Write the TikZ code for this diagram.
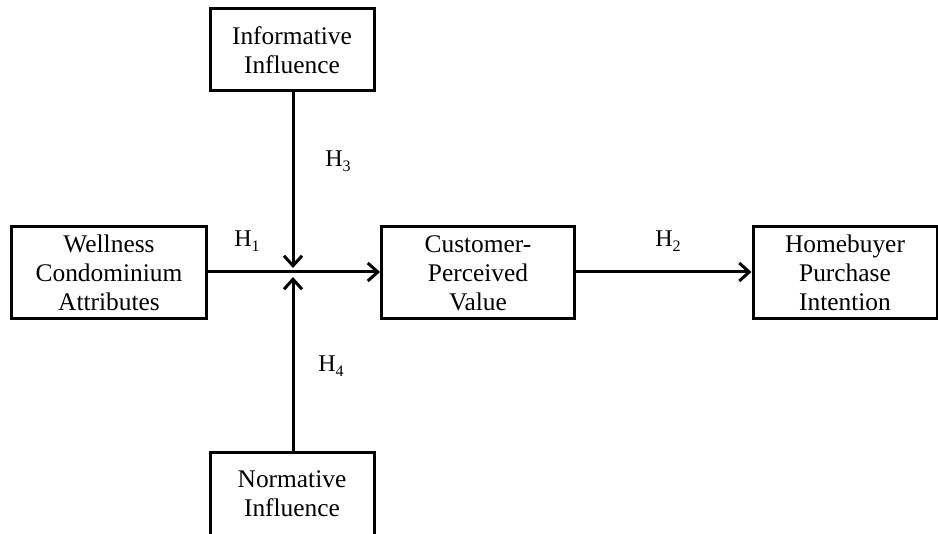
\documentclass[tikz,border=0pt]{standalone}
\usepackage{fontspec}
\setmainfont{Liberation Serif}
\usetikzlibrary{arrows.meta}
\newcommand{\hsub}[1]{H\raisebox{-0.45ex}{\fontsize{8pt}{8pt}\selectfont #1}}
\begin{document}
\begin{tikzpicture}[x=0.5pt,y=-0.5pt,
  box/.style={draw,line width=1.5pt,align=center,inner sep=0pt,
    font=\fontsize{12.7pt}{14.5pt}\selectfont},
  conn/.style={line width=1.5pt,-{Straight Barb[length=5pt,width=9pt,line width=1.5pt]}},
  hyp/.style={font=\fontsize{12pt}{13pt}\selectfont}]
\useasboundingbox (0,0) rectangle (938,534);
\node[box,minimum width=82pt,minimum height=41pt] (info) at (292,50) {Informative\\Influence};
\node[box,minimum width=97.5pt,minimum height=46pt] (well) at (109,273) {Wellness\\Condominium\\Attributes};
\node[box,minimum width=96.5pt,minimum height=46pt] (cust) at (478,273) {Customer-\\Perceived\\Value};
\node[box,minimum width=92pt,minimum height=46pt] (home) at (845,273) {Homebuyer\\Purchase\\Intention};
\node[box,minimum width=82pt,minimum height=41pt] (norm) at (292,494) {Normative\\Influence};
\coordinate (jtop) at (293,268);
\coordinate (jbot) at (293,277);
\draw[conn] (well.east |- 0,272) -- (cust.west |- 0,272);
\draw[conn] (cust.east |- 0,272) -- (home.west |- 0,272);
\draw[conn] (info.south -| jtop) -- (jtop);
\draw[conn] (norm.north -| jbot) -- (jbot);
\node[hyp] (h1) at (247,241) {\hsub{1}};
\node[hyp] (h2) at (668,241) {\hsub{2}};
\node[hyp] (h3) at (338,161) {\hsub{3}};
\node[hyp] (h4) at (331,366) {\hsub{4}};
\end{tikzpicture}
\end{document}
